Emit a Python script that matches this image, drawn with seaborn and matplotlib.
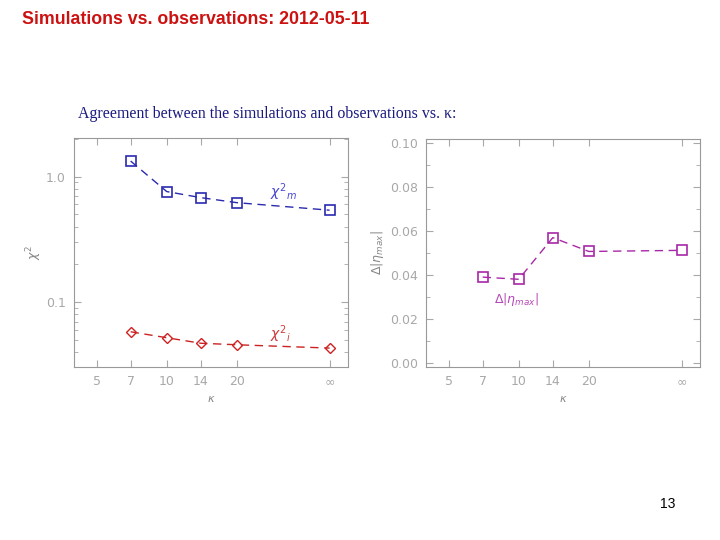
import numpy as np
import pandas as pd
import matplotlib
matplotlib.use('Agg')
import matplotlib.pyplot as plt
import seaborn as sns

# DATA (kappa = 50 stands in for infinity on the log axis)
kappa = [7, 10, 14, 20, 50]
chi2_m = [1.33, 0.76, 0.68, 0.62, 0.54]
chi2_i = [0.058, 0.052, 0.047, 0.0457, 0.043]
d_eta = [0.039, 0.038, 0.057, 0.0507, 0.0512]
tick_pos = [5, 7, 10, 14, 20, 50]
tick_labels = ['5', '7', '10', '14', '20', '∞']

BLUE = '#2a2ab0'
RED = '#cc2222'
MAGENTA = '#a828a8'
GRAY = '#a8a8a8'

sns.set_style('white')
plt.rcParams['font.family'] = ['DejaVu Sans']

fig = plt.figure(figsize=(7.2, 5.4), dpi=100)
ax1 = fig.add_axes([0.1028, 0.3204, 0.3806, 0.4240])
ax2 = fig.add_axes([0.5917, 0.3204, 0.3806, 0.4222])

df_left = pd.DataFrame({'kappa': kappa, 'chi2_m': chi2_m, 'chi2_i': chi2_i})
df_right = pd.DataFrame({'kappa': kappa, 'd_eta': d_eta})

line_kw = dict(linestyle=(0, (6, 4)), linewidth=1.0, markerfacecolor='none')
sns.lineplot(data=df_left, x='kappa', y='chi2_m', ax=ax1, color=BLUE,
             marker='s', markersize=7, markeredgecolor=BLUE,
             markeredgewidth=1.2, **line_kw)
sns.lineplot(data=df_left, x='kappa', y='chi2_i', ax=ax1, color=RED,
             marker='D', markersize=5.5, markeredgecolor=RED,
             markeredgewidth=1.0, **line_kw)
sns.lineplot(data=df_right, x='kappa', y='d_eta', ax=ax2, color=MAGENTA,
             marker='s', markersize=7.5, markeredgecolor=MAGENTA,
             markeredgewidth=1.2, **line_kw)

for ax in (ax1, ax2):
    ax.set_xscale('log')
    ax.set_xlim(4, 60)
    ax.set_xticks(tick_pos)
    ax.set_xticklabels(tick_labels)
    ax.xaxis.set_minor_locator(matplotlib.ticker.NullLocator())
    ax.tick_params(which='both', direction='in', colors=GRAY,
                   labelcolor=GRAY, labelsize=9, top=True, right=True,
                   bottom=True, left=True)
    ax.tick_params(which='major', length=5, pad=6)
    ax.tick_params(which='minor', length=3)
    for s in ax.spines.values():
        s.set_color('#999999')
        s.set_linewidth(0.8)
    ax.set_xlabel(r'$\kappa$', fontsize=8, color='#888888', labelpad=4)

ax1.set_yscale('log')
ax1.set_ylim(0.0304, 2.03)
ax1.set_yticks([0.1, 1.0])
ax1.set_yticklabels(['0.1', '1.0'])
ax1.yaxis.set_minor_locator(matplotlib.ticker.LogLocator(subs=np.arange(2, 10)))
ax1.yaxis.set_minor_formatter(matplotlib.ticker.NullFormatter())
ax1.set_ylabel(r'$\chi^2$', fontsize=9, color='#888888', labelpad=1)
ax1.annotate(r'$\chi^{2}{}_{m}$', xy=(270 / 720, 1 - 192 / 540),
             xycoords='figure fraction', color='#4848d0', fontsize=10,
             ha='left', va='center')
ax1.annotate(r'$\chi^{2}{}_{i}$', xy=(270 / 720, 1 - 334 / 540),
             xycoords='figure fraction', color='#d03a3a', fontsize=10,
             ha='left', va='center')

ax2.set_ylim(-0.002, 0.102)
ax2.set_yticks([0.0, 0.02, 0.04, 0.06, 0.08, 0.10])
ax2.set_yticklabels(['0.00', '0.02', '0.04', '0.06', '0.08', '0.10'])
ax2.yaxis.set_minor_locator(matplotlib.ticker.MultipleLocator(0.01))
ax2.set_ylabel(r'$\Delta|\eta_{max}|$', fontsize=9, color='#888888', labelpad=3)
ax2.annotate(r'$\Delta|\eta_{max}|$', xy=(494 / 720, 1 - 300 / 540),
             xycoords='figure fraction', color='#b848b8', fontsize=9,
             ha='left', va='center')

fig.text(22 / 720, 1 - 20 / 540, 'Simulations vs. observations: 2012-05-11',
         color='#cc1111', fontsize=12.8, fontweight='bold',
         family='Liberation Sans', ha='left', va='center')
fig.text(78 / 720, 1 - 114 / 540,
         'Agreement between the simulations and observations vs. κ:',
         color='#1a1a80', fontsize=11.4, family='Liberation Serif',
         ha='left', va='center')
fig.text(668 / 720, 1 - 504 / 540, '13', color='black', fontsize=10,
         family='Liberation Sans', ha='center', va='center')

fig.savefig('out.png', dpi=100)
